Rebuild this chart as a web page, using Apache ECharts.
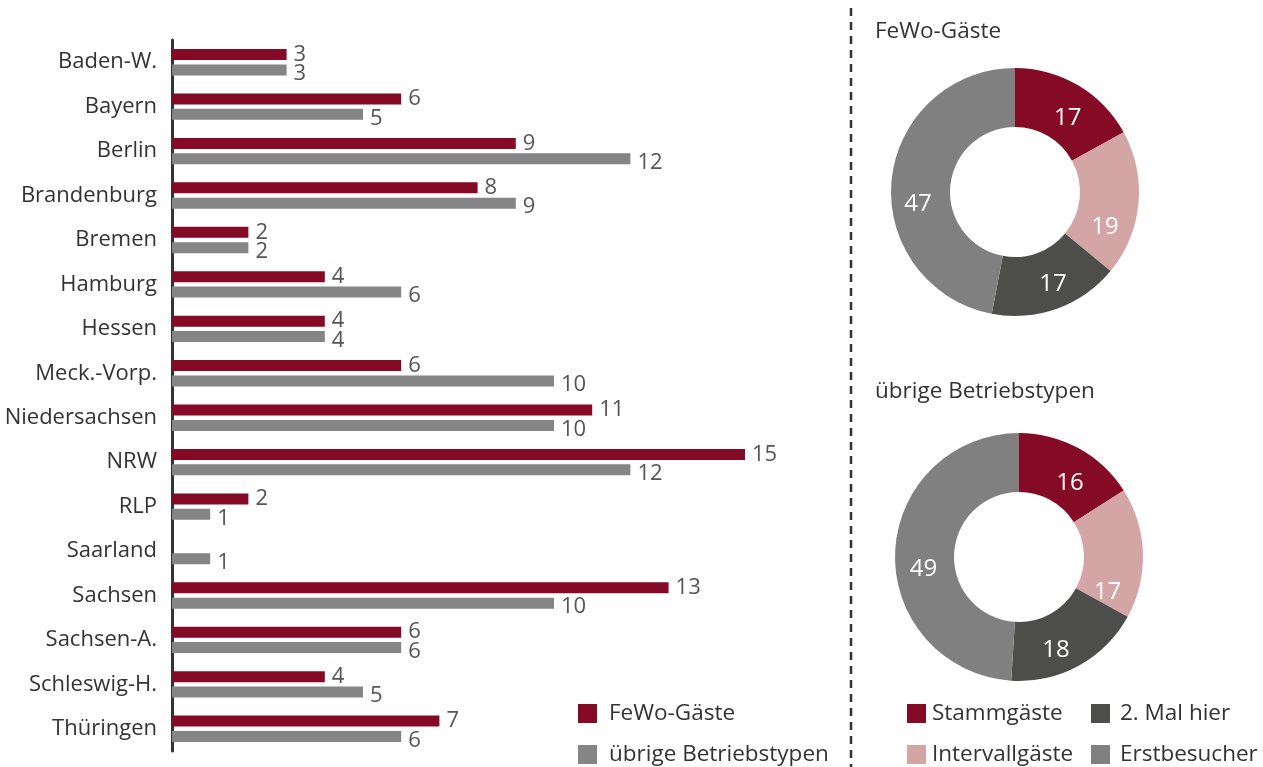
<!DOCTYPE html>
<html>
<head>
<meta charset="utf-8">
<script src="https://cdn.jsdelivr.net/npm/echarts@6/dist/echarts.min.js"></script>
<style>
  html, body { margin: 0; padding: 0; background: #fff; }
  #chart { width: 1263px; height: 767px; }
</style>
</head>
<body>
<div id="chart"></div>
<script>
const laender = ["Baden-W.", "Bayern", "Berlin", "Brandenburg", "Bremen", "Hamburg", "Hessen",
  "Meck.-Vorp.", "Niedersachsen", "NRW", "RLP", "Saarland", "Sachsen", "Sachsen-A.",
  "Schleswig-H.", "Thüringen"];
const fewoWerte = [3, 6, 9, 8, 2, 4, 4, 6, 11, 15, 2, 0, 13, 6, 4, 7];
const uebrigeWerte = [3, 5, 12, 9, 2, 6, 4, 10, 10, 12, 1, 1, 10, 6, 5, 6];

const gastTypen = ["Stammgäste", "Intervallgäste", "2. Mal hier", "Erstbesucher"];
const fewoAnteile = [17, 19, 17, 47];
const uebrigeAnteile = [16, 17, 18, 49];

const farben = {
  rot: "#840a26",
  grau: "#858585",
  rosa: "#d4a5a5",
  dunkel: "#4d4d4b",
  mittel: "#808080"
};
const pieFarben = [farben.rot, farben.rosa, farben.dunkel, farben.mittel];
// label nudges so the numbers sit where the original put them
const fewoLabelOffset = [[3, 10], [-7, 26], [5, 0], [0, 21]];
const uebrigeLabelOffset = [[4, 12], [-9, 38], [-10, 8], [2, 15]];

const font = "Open Sans";
const textColor = "#333";
const fs = 22;

function pieData(werte, offsets) {
  return gastTypen.map((name, i) => ({
    name: name,
    value: werte[i],
    itemStyle: { color: pieFarben[i] },
    label: { offset: offsets[i] }
  }));
}

function pieSeries(werte, offsets, center) {
  return {
    type: "pie",
    radius: [65, 124],
    center: center,
    startAngle: 90,
    clockwise: true,
    silent: true,
    label: {
      show: true,
      position: "inside",
      formatter: "{c}",
      color: "#fff",
      fontFamily: font,
      fontSize: 24
    },
    labelLine: { show: false },
    data: pieData(werte, offsets)
  };
}

// one legend per entry, placed like the original
function legendItem(name, left, top, gap) {
  return {
    left: left,
    top: top,
    itemWidth: 19,
    itemHeight: 19,
    icon: "rect",
    padding: 0,
    selectedMode: false,
    textStyle: { color: textColor, fontSize: 22.5, fontFamily: font, padding: [0, 0, 0, gap] },
    data: [name]
  };
}

function barLabel(dy) {
  return {
    show: true,
    position: "right",
    distance: 7,
    offset: [0, dy],
    color: "#555",
    fontSize: fs,
    fontFamily: font,
    formatter: p => (p.value ? p.value : "")
  };
}

const chart = echarts.init(document.getElementById("chart"));

const option = {
  animation: false,
  textStyle: { fontFamily: font },
  grid: { left: 172, top: 40, width: 573, height: 711 },
  xAxis: {
    type: "value",
    min: 0,
    max: 15,
    show: false
  },
  yAxis: {
    type: "category",
    inverse: true,
    data: laender,
    offset: 6,
    axisLine: { show: true, lineStyle: { color: "#333", width: 3 } },
    axisTick: { show: false },
    axisLabel: { color: textColor, fontSize: fs, margin: 9, fontFamily: font }
  },
  legend: [
    legendItem("FeWo-Gäste", 578, 702, 7),
    legendItem("übrige Betriebstypen", 578, 743, 7),
    legendItem("Stammgäste", 907, 702, 1),
    legendItem("Intervallgäste", 907, 743, 1),
    legendItem("2. Mal hier", 1091, 702, 5),
    legendItem("Erstbesucher", 1091, 743, 5)
  ],
  title: [
    {
      text: "FeWo-Gäste",
      left: 870,
      top: 15,
      textStyle: { color: textColor, fontSize: 22.5, fontWeight: "normal", fontFamily: font }
    },
    {
      text: "übrige Betriebstypen",
      left: 870,
      top: 375,
      textStyle: { color: textColor, fontSize: 22.5, fontWeight: "normal", fontFamily: font }
    }
  ],
  graphic: [
    {
      type: "line",
      shape: { x1: 851, y1: 8, x2: 851, y2: 767 },
      style: { stroke: "#333", lineWidth: 2.5, lineDash: [8, 6] }
    }
  ],
  series: [
    {
      name: "FeWo-Gäste",
      type: "bar",
      data: fewoWerte,
      barWidth: 11,
      barGap: "40%",
      itemStyle: { color: farben.rot },
      label: barLabel(0)
    },
    {
      name: "übrige Betriebstypen",
      type: "bar",
      data: uebrigeWerte,
      barWidth: 11,
      barGap: "40%",
      itemStyle: { color: farben.grau },
      label: barLabel(4)
    },
    pieSeries(fewoAnteile, fewoLabelOffset, [1015, 192]),
    pieSeries(uebrigeAnteile, uebrigeLabelOffset, [1019, 557])
  ]
};

chart.setOption(option);
</script>
</body>
</html>
